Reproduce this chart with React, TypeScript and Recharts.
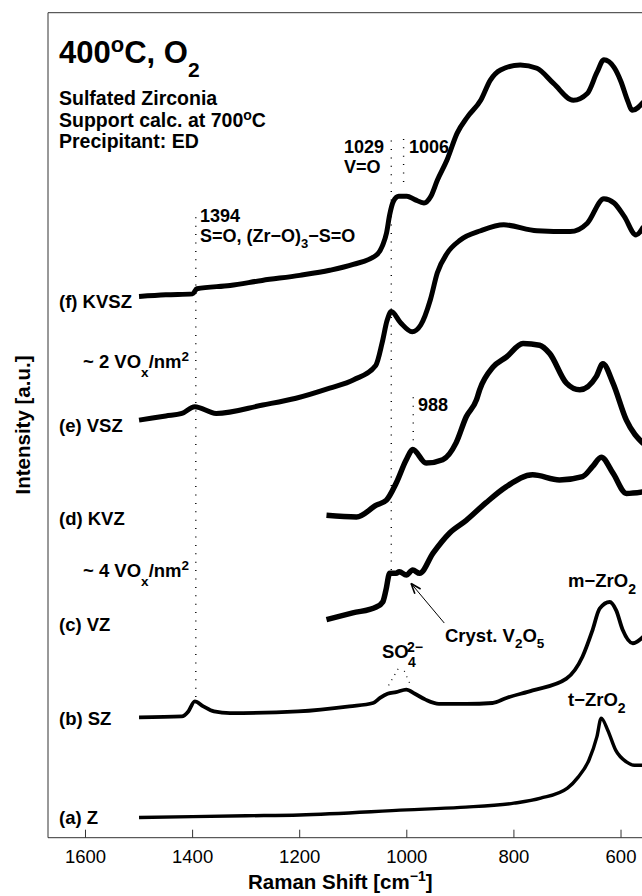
import React from "react";
import { LineChart, Line, XAxis, YAxis, ReferenceLine } from "recharts";

// ---- data (Raman shift in cm^-1, offset intensity in a.u.) ----
const SHIFT_TICKS = [1600, 1400, 1200, 1000, 800, 600];
const INT_TICKS = [0, 1, 2, 3, 4, 5, 6, 7, 8, 9];

const zShift = [1500, 1300, 1200, 1000, 900, 800, 750, 700, 680, 660, 645, 637, 625, 610, 590, 575, 558];
const zInt = [0.24, 0.26, 0.27, 0.33, 0.36, 0.41, 0.47, 0.59, 0.72, 0.92, 1.2, 1.42, 1.28, 1.04, 0.9, 0.86, 0.86];

const szShift = [1500, 1420, 1408, 1396, 1380, 1360, 1330, 1203, 1107, 1063, 1050, 1036, 1020, 1001, 985, 965, 940, 889, 840, 814, 765, 702, 672, 653, 640, 621, 609, 597, 578, 558];
const szInt = [1.43, 1.44, 1.5, 1.62, 1.56, 1.5, 1.48, 1.5, 1.56, 1.6, 1.66, 1.71, 1.73, 1.76, 1.71, 1.64, 1.59, 1.59, 1.6, 1.66, 1.75, 1.89, 2.15, 2.47, 2.72, 2.8, 2.7, 2.47, 2.31, 2.39];

const vzShift = [1150, 1101, 1057, 1045, 1039, 1032, 1020, 1014, 1001, 989, 976, 951, 920, 889, 852, 814, 765, 715, 672, 653, 637, 615, 590, 558];
const vzInt = [2.59, 2.67, 2.74, 2.8, 2.94, 3.14, 3.14, 3.16, 3.12, 3.18, 3.14, 3.38, 3.62, 3.77, 3.98, 4.17, 4.31, 4.25, 4.29, 4.41, 4.52, 4.33, 4.09, 4.11];

const kvzShift = [1150, 1094, 1057, 1038, 1020, 1001, 989, 964, 933, 908, 889, 870, 864, 839, 814, 783, 752, 733, 702, 677, 646, 634, 615, 590, 558];
const kvzInt = [3.83, 3.81, 3.95, 4.01, 4.21, 4.49, 4.61, 4.45, 4.49, 4.69, 5.0, 5.2, 5.32, 5.59, 5.71, 5.87, 5.85, 5.75, 5.4, 5.32, 5.48, 5.63, 5.4, 4.96, 4.68];

const vszShift = [1500, 1450, 1420, 1396, 1356, 1269, 1207, 1144, 1099, 1058, 1046, 1037, 1029, 1012, 990, 974, 956, 943, 925, 900, 862, 819, 757, 695, 663, 632, 613, 594, 572, 558];
const vszInt = [4.96, 5.01, 5.04, 5.12, 5.04, 5.14, 5.22, 5.34, 5.44, 5.61, 5.88, 6.14, 6.25, 6.12, 6.01, 6.09, 6.39, 6.71, 6.94, 7.1, 7.21, 7.28, 7.21, 7.2, 7.3, 7.59, 7.54, 7.38, 7.16, 7.26];

const kvszShift = [1500, 1450, 1400, 1392, 1330, 1270, 1200, 1144, 1100, 1057, 1045, 1038, 1032, 1025, 1015, 1000, 985, 968, 955, 943, 925, 906, 887, 862, 844, 825, 788, 757, 726, 689, 663, 645, 632, 613, 600, 588, 579, 558];
const kvszInt = [6.43, 6.45, 6.46, 6.52, 6.56, 6.62, 6.68, 6.74, 6.81, 6.92, 7.04, 7.18, 7.4, 7.56, 7.62, 7.62, 7.58, 7.54, 7.62, 7.81, 8.05, 8.37, 8.56, 8.76, 9.0, 9.12, 9.18, 9.14, 8.96, 8.76, 8.84, 9.09, 9.24, 9.15, 8.98, 8.76, 8.64, 8.74];

// dotted guide lines: [shift, from, to]
const GUIDES = [
  [1394, 1.67, 7.45],
  [1029, 3.18, 8.32],
  [1006, 7.79, 8.32],
  [988, 4.72, 5.24],
];
const SO4_GUIDES = [
  [1034, 1.81, 1014, 2.03],
  [995, 1.84, 1008, 2.03],
];
const ARROW = [930, 2.55, 992, 3.02];

const toPoints = (s: number[], v: number[]) => s.map((x, i) => ({ shift: x, intensity: v[i] }));

const SERIES = [
  { name: "(a) Z", data: toPoints(zShift, zInt), w: 3.4 },
  { name: "(b) SZ", data: toPoints(szShift, szInt), w: 3.8 },
  { name: "(c) VZ", data: toPoints(vzShift, vzInt), w: 5.5 },
  { name: "(d) KVZ", data: toPoints(kvzShift, kvzInt), w: 5.5 },
  { name: "(e) VSZ", data: toPoints(vszShift, vszInt), w: 5 },
  { name: "(f) KVSZ", data: toPoints(kvszShift, kvszInt), w: 5 },
];

const FONT = "'Liberation Sans', Arial, Helvetica, sans-serif";
const AXIS = "#333";

const XTick = (props: any) => {
  const { x, payload } = props;
  return (
    <text x={x} y={863} textAnchor="middle" fontSize={18.5} fontFamily={FONT} fill="#000">
      {payload.value}
    </text>
  );
};

const Arrow = (props: any) => {
  const { x1, y1, x2, y2 } = props;
  const ang = Math.atan2(y2 - y1, x2 - x1);
  const L = 11;
  const a1 = ang + Math.PI - 0.35;
  const a2 = ang + Math.PI + 0.35;
  return (
    <g stroke="#000" strokeWidth={1}>
      <line x1={x1} y1={y1} x2={x2} y2={y2} />
      <line x1={x2} y1={y2} x2={x2 + L * Math.cos(a1)} y2={y2 + L * Math.sin(a1)} strokeWidth={1.6} />
      <line x1={x2} y1={y2} x2={x2 + L * Math.cos(a2)} y2={y2 + L * Math.sin(a2)} strokeWidth={1.6} />
    </g>
  );
};

export default function App() {
  const bold = { fontFamily: FONT, fontWeight: "bold" as const, fill: "#000" };
  return (
    <div style={{ position: "fixed", left: 0, top: 0, width: 642, height: 896, overflow: "hidden", background: "#fff" }}>
      <LineChart width={650} height={896} margin={{ top: 10.7, right: 0.2, bottom: 56.3, left: 46 }}>
        <XAxis
          dataKey="shift"
          type="number"
          domain={[550, 1670]}
          reversed
          ticks={SHIFT_TICKS}
          interval={0}
          allowDataOverflow
          height={2}
          tickSize={-8}
          tickLine={{ stroke: AXIS }}
          tick={<XTick />}
          axisLine={{ stroke: AXIS }}
        />
        <XAxis
          xAxisId="top"
          orientation="top"
          dataKey="shift"
          type="number"
          domain={[550, 1670]}
          reversed
          ticks={SHIFT_TICKS}
          interval={0}
          allowDataOverflow
          height={2}
          tickSize={-8}
          tickLine={{ stroke: AXIS }}
          tick={false}
          axisLine={{ stroke: AXIS }}
        />
        <YAxis
          type="number"
          domain={[0, 9.8]}
          ticks={INT_TICKS}
          interval={0}
          width={2}
          tickSize={-8}
          tickLine={{ stroke: AXIS }}
          tick={false}
          axisLine={{ stroke: AXIS }}
          allowDataOverflow
        />
        <YAxis
          yAxisId="right"
          orientation="right"
          type="number"
          domain={[0, 9.8]}
          ticks={INT_TICKS}
          interval={0}
          width={2}
          tickSize={-8}
          tickLine={{ stroke: AXIS }}
          tick={false}
          axisLine={{ stroke: AXIS }}
          allowDataOverflow
        />
        {GUIDES.map((g, i) => (
          <ReferenceLine
            key={"g" + i}
            segment={[{ x: g[0], y: g[1] }, { x: g[0], y: g[2] }]}
            stroke="#000"
            strokeWidth={1.4}
            strokeDasharray="1 7.4"
            ifOverflow="visible"
          />
        ))}
        {SO4_GUIDES.map((g, i) => (
          <ReferenceLine
            key={"s" + i}
            segment={[{ x: g[0], y: g[1] }, { x: g[2], y: g[3] }]}
            stroke="#000"
            strokeWidth={1.2}
            strokeDasharray="1 5"
            ifOverflow="visible"
          />
        ))}
        <ReferenceLine
          segment={[{ x: ARROW[0], y: ARROW[1] }, { x: ARROW[2], y: ARROW[3] }]}
          shape={<Arrow />}
          ifOverflow="visible"
        />
        {SERIES.map((s) => (
          <Line
            key={s.name}
            name={s.name}
            data={s.data}
            dataKey="intensity"
            type="monotone"
            stroke="#000"
            strokeWidth={s.w}
            strokeLinejoin="round"
            dot={false}
            isAnimationActive={false}
          />
        ))}
      </LineChart>
      <svg width={642} height={896} style={{ position: "absolute", left: 0, top: 0, pointerEvents: "none" }}>
        <text x={59} y={63} fontSize={31} {...bold}>
          400<tspan dy={-11} fontSize={22}>o</tspan>
          <tspan dy={11}>C, O</tspan>
          <tspan dy={14} fontSize={21}>2</tspan>
        </text>
        <text x={59} y={105} fontSize={19.5} {...bold}>Sulfated Zirconia</text>
        <text x={59} y={126.5} fontSize={19.5} {...bold}>
          Support calc. at 700<tspan dy={-7} fontSize={14}>o</tspan>
          <tspan dy={7}>C</tspan>
        </text>
        <text x={59} y={148} fontSize={19.5} {...bold}>Precipitant: ED</text>

        <text x={59} y={308} fontSize={18.5} {...bold}>(f) KVSZ</text>
        <text x={59} y={432} fontSize={18.5} {...bold}>(e) VSZ</text>
        <text x={59} y={525} fontSize={18.5} {...bold}>(d) KVZ</text>
        <text x={59} y={631} fontSize={18.5} {...bold}>(c) VZ</text>
        <text x={59} y={725} fontSize={18.5} {...bold}>(b) SZ</text>
        <text x={59} y={824} fontSize={18.5} {...bold}>(a) Z</text>

        <text x={83} y={368} fontSize={18.5} {...bold}>
          ~ 2 VO<tspan dy={9} fontSize={13.5}>x</tspan>
          <tspan dy={-9}>/nm</tspan>
          <tspan dy={-7} fontSize={13.5}>2</tspan>
        </text>
        <text x={83} y={577} fontSize={18.5} {...bold}>
          ~ 4 VO<tspan dy={9} fontSize={13.5}>x</tspan>
          <tspan dy={-9}>/nm</tspan>
          <tspan dy={-7} fontSize={13.5}>2</tspan>
        </text>

        <text x={200} y={221.7} fontSize={18} {...bold}>1394</text>
        <text x={200} y={241.7} fontSize={18} {...bold}>
          S=O, (Zr−O)<tspan dy={6} fontSize={13}>3</tspan>
          <tspan dy={-6}>−S=O</tspan>
        </text>
        <text x={384} y={153} fontSize={18} textAnchor="end" {...bold}>1029</text>
        <text x={344} y={173} fontSize={18} {...bold}>V=O</text>
        <text x={409} y={153} fontSize={18} {...bold}>1006</text>
        <text x={418} y={411} fontSize={18} {...bold}>988</text>

        <text x={445} y={642} fontSize={18.5} {...bold}>
          Cryst. V<tspan dy={6} fontSize={13.5}>2</tspan>
          <tspan dy={-6}>O</tspan>
          <tspan dy={6} fontSize={13.5}>5</tspan>
        </text>
        <text x={382} y={658} fontSize={18.5} {...bold}>SO</text>
        <text x={407} y={651.5} fontSize={14} {...bold}>2−</text>
        <text x={408} y={667} fontSize={14} {...bold}>4</text>

        <text x={568} y={587} fontSize={18.5} {...bold}>
          m−ZrO<tspan dy={7} fontSize={14}>2</tspan>
        </text>
        <text x={568} y={706} fontSize={18.5} {...bold}>
          t−ZrO<tspan dy={7} fontSize={14}>2</tspan>
        </text>

        <text transform="translate(30,425) rotate(-90)" textAnchor="middle" fontSize={20.5} {...bold}>
          Intensity [a.u.]
        </text>
        <text x={248} y={889} fontSize={20.5} {...bold}>
          Raman Shift [cm<tspan dy={-8} fontSize={14}>−1</tspan>
          <tspan dy={8}>]</tspan>
        </text>
      </svg>
    </div>
  );
}
